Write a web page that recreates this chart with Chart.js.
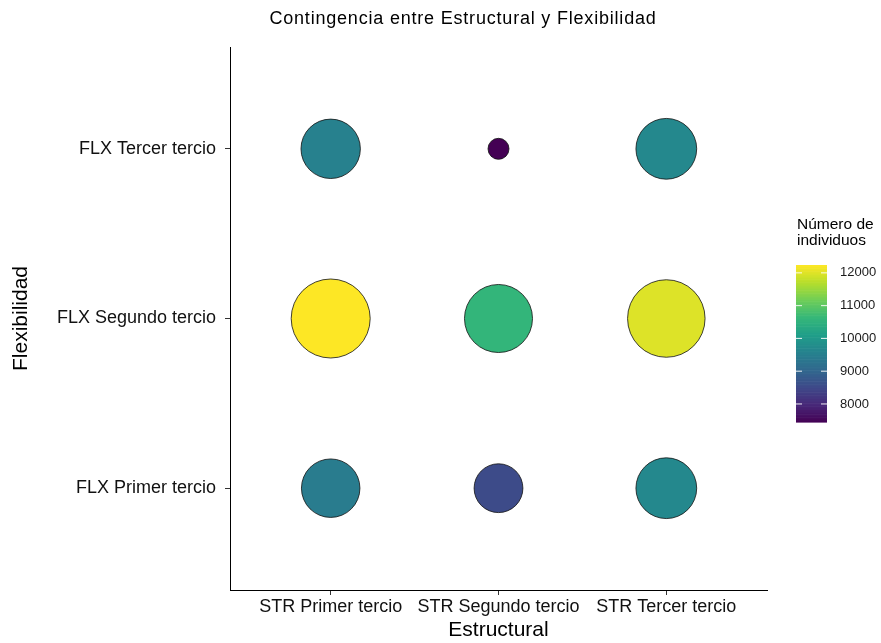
<!DOCTYPE html>
<html>
<head>
<meta charset="utf-8">
<script src="https://cdn.jsdelivr.net/npm/chart.js@4/dist/chart.umd.min.js"></script>
<style>
  html, body { margin: 0; padding: 0; background: #fff; }
  #wrap { width: 881px; height: 643px; position: relative; }
</style>
</head>
<body>
<div id="wrap"><canvas id="c" width="881" height="643"></canvas></div>
<script>
// ---- data ----
const strCategories = ['STR Primer tercio', 'STR Segundo tercio', 'STR Tercer tercio'];
const flxCategories = ['FLX Primer tercio', 'FLX Segundo tercio', 'FLX Tercer tercio'];
const flxPrimer  = [9450, 8550, 9700];
const flxSegundo = [12240, 10600, 12000];
const flxTercer  = [9550, 7450, 9700];
const legendTicks = [8000, 9000, 10000, 11000, 12000];
const chartTitle = 'Contingencia entre Estructural y Flexibilidad';
const xTitle = 'Estructural';
const yTitle = 'Flexibilidad';
const legendTitle = ['Número de', 'individuos'];

// ---- helpers ----
const rows = [flxPrimer, flxSegundo, flxTercer];
const allVals = rows.flat();
const vMin = Math.min(...allVals), vMax = Math.max(...allVals);
const viridis = ['#440154','#482878','#3e4989','#31688e','#26828e','#1f9e89','#35b779','#6ece58','#b5de2b','#fde725'];
function hex2rgb(h){ return [parseInt(h.slice(1,3),16), parseInt(h.slice(3,5),16), parseInt(h.slice(5,7),16)]; }
function viridisColor(t){
  t = Math.max(0, Math.min(1, t));
  const p = t * (viridis.length - 1);
  const i = Math.min(Math.floor(p), viridis.length - 2);
  const f = p - i;
  const a = hex2rgb(viridis[i]), b = hex2rgb(viridis[i+1]);
  const c = a.map((v, k) => Math.round(v + (b[k] - v) * f));
  return `rgb(${c[0]},${c[1]},${c[2]})`;
}
const norm = v => (v - vMin) / (vMax - vMin);
const rMin = 10.5, rMax = 39.5;
const radius = v => rMin + (rMax - rMin) * Math.sqrt(norm(v));

const points = [], colors = [];
rows.forEach((row, yi) => {
  row.forEach((v, xi) => {
    points.push({ x: xi + 1, y: yi + 1, r: radius(v), v: v });
    colors.push(viridisColor(norm(v)));
  });
});

const FONT = "'Liberation Sans', Arial, sans-serif";

const extras = {
  id: 'extras',
  afterDraw(chart) {
    const ctx = chart.ctx;
    ctx.save();
    // title
    ctx.fillStyle = '#000';
    ctx.font = `18px ${FONT}`;
    ctx.letterSpacing = '0.8px';
    ctx.textAlign = 'center';
    ctx.textBaseline = 'middle';
    ctx.fillText(chartTitle, 463, 19);
    ctx.letterSpacing = '0px';
    // legend title
    ctx.textAlign = 'left';
    ctx.font = `15.5px ${FONT}`;
    ctx.fillText(legendTitle[0], 797, 225);
    ctx.fillText(legendTitle[1], 797, 241);
    // colorbar
    const bx = 796, bw = 31, top = 265, bot = 422;
    const steps = 100;
    for (let i = 0; i < steps; i++) {
      const t0 = i / steps;
      ctx.fillStyle = viridisColor(t0 + 0.5 / steps);
      const y0 = bot - (i + 1) / steps * (bot - top);
      ctx.fillRect(bx, y0, bw, (bot - top) / steps + 0.6);
    }
    ctx.font = `13px ${FONT}`;
    legendTicks.forEach(v => {
      const y = bot - norm(v) * (bot - top);
      ctx.strokeStyle = 'rgba(255,255,255,0.9)';
      ctx.lineWidth = 1;
      ctx.beginPath();
      ctx.moveTo(bx, y); ctx.lineTo(bx + 6, y);
      ctx.moveTo(bx + bw - 6, y); ctx.lineTo(bx + bw, y);
      ctx.stroke();
      ctx.fillStyle = '#1a1a1a';
      ctx.textAlign = 'left';
      ctx.fillText(String(v), 840, y);
    });
    ctx.restore();
  }
};

new Chart(document.getElementById('c'), {
  type: 'bubble',
  data: {
    datasets: [{
      data: points,
      backgroundColor: colors,
      borderColor: '#111',
      borderWidth: 0.8
    }]
  },
  options: {
    responsive: false,
    animation: false,
    events: [],
    layout: { padding: { top: 47, right: 114, left: 0, bottom: 0 } },
    plugins: { legend: { display: false }, tooltip: { enabled: false }, title: { display: false } },
    scales: {
      x: {
        type: 'linear', min: 0.4, max: 3.6,
        afterBuildTicks: s => { s.ticks = [1, 2, 3].map(v => ({ value: v })); },
        afterFit: s => { s.height = 53; },
        grid: { display: true, drawOnChartArea: false, drawTicks: true, tickLength: 5, color: '#333', lineWidth: 1 },
        border: { display: true, color: '#000', width: 1 },
        ticks: { callback: v => strCategories[v - 1], color: '#111', font: { size: 18, family: FONT }, padding: 1, maxRotation: 0, autoSkip: false },
        title: { display: true, text: xTitle, color: '#000', font: { size: 21, family: FONT }, padding: { top: 0, bottom: 0 } }
      },
      y: {
        type: 'linear', min: 0.4, max: 3.6,
        afterBuildTicks: s => { s.ticks = [1, 2, 3].map(v => ({ value: v })); },
        afterFit: s => { s.width = 230; },
        grid: { display: true, drawOnChartArea: false, drawTicks: true, tickLength: 5, color: '#333', lineWidth: 1 },
        border: { display: true, color: '#000', width: 1 },
        ticks: { callback: v => flxCategories[v - 1], color: '#111', font: { size: 18, family: FONT }, padding: 9, autoSkip: false },
        title: { display: true, text: yTitle, color: '#000', font: { size: 21, family: FONT }, padding: { top: 9, bottom: 0 } }
      }
    }
  },
  plugins: [extras]
});
</script>
</body>
</html>
